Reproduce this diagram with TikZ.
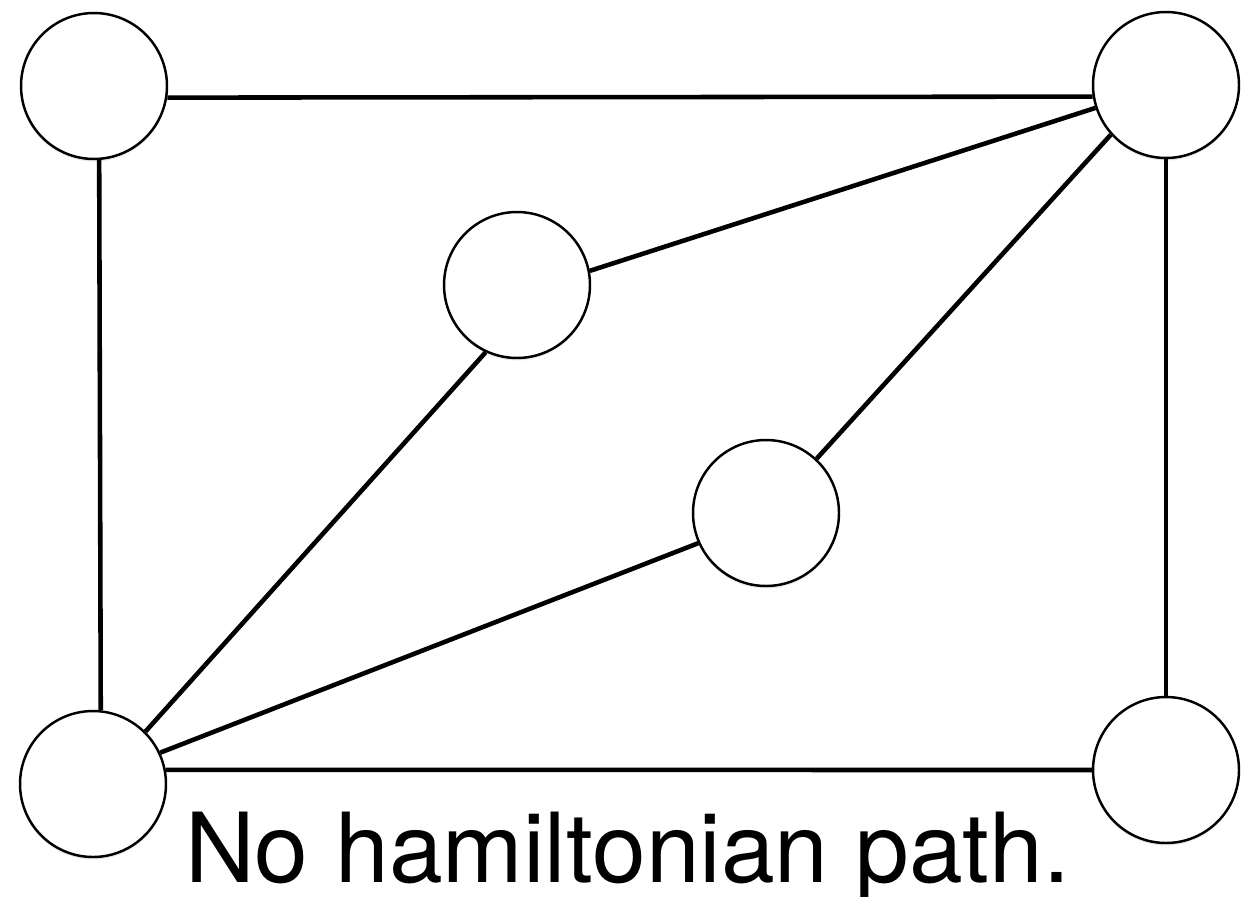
\documentclass[tikz,border=0pt]{standalone}
\usepackage{fontspec}
\setmainfont{TeX Gyre Heros}
\usetikzlibrary{shadows}

\tikzset{
    vertex/.style={circle, draw, fill=white, line width=1.4pt, minimum size=2.92cm, inner sep=0pt,
        drop shadow={opacity=0.18, shadow xshift=0pt, shadow yshift=-0.05cm}},
    edge/.style={line width=2.6pt}
}

\begin{document}
\begin{tikzpicture}[x=0.02cm, y=-0.02cm]
    \useasboundingbox (0,0) rectangle (1250,896);

    
    \node[vertex] (tl) at (94,86) {};
    \node[vertex] (tr) at (1166,85) {};
    \node[vertex] (mu) at (517,285) {};
    \node[vertex] (ml) at (766,513) {};
    \node[vertex] (bl) at (93,784) {};
    \node[vertex] (br) at (1166,770) {};

    
    \foreach \u/\a/\v/\b in {
        tl/351.5/tr/189.3, tl/274.7/bl/84.5,
        tr/270/br/90, bl/11.5/br/180,
        mu/11.8/tr/198, ml/47.2/tr/222.9,
        bl/45/mu/245.4, bl/25.6/ml/204.9
    } {
        \draw[edge] (\u.\a) -- (\v.\b);
    }

    
    \node[anchor=base, inner sep=0pt, font=\fontsize{55pt}{60pt}\selectfont] (caption) at (627.5,882) {No hamiltonian path.};

\end{tikzpicture}
\end{document}
